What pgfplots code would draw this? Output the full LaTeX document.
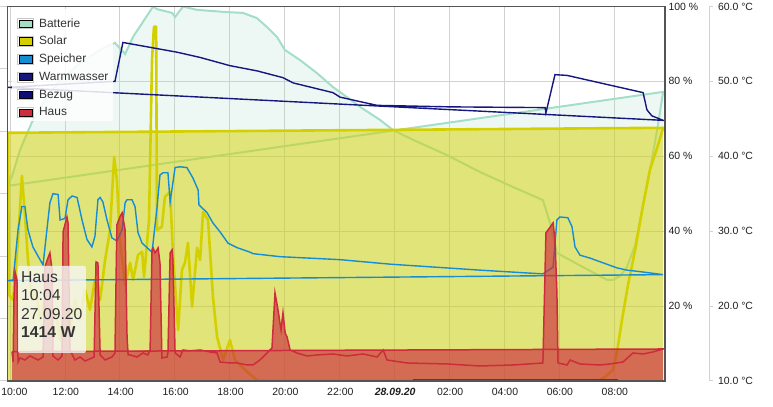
\documentclass[border=0pt]{standalone}
\usepackage{fontspec}
\setmainfont{Liberation Sans}
\usepackage{pgfplots}
\pgfplotsset{compat=1.18}
\definecolor{battC}{RGB}{165,222,199}
\definecolor{solarC}{RGB}{212,208,0}
\definecolor{speiC}{RGB}{22,140,212}
\definecolor{warmC}{RGB}{22,22,128}
\definecolor{bezugC}{RGB}{14,14,118}
\definecolor{hausC}{RGB}{204,44,60}
\definecolor{gridC}{RGB}{210,210,210}
\definecolor{borderC}{RGB}{85,85,85}
\definecolor{txtC}{RGB}{30,30,30}
\definecolor{legC}{RGB}{51,51,51}
\pgfplotsset{
  base/.style={
    at={(7.5bp,26bp)}, anchor=south west,
    scale only axis, width=657.5bp, height=374.5bp,
    xmin=-0.095, xmax=23.858,
  },
}
\begin{document}
\begin{tikzpicture}
\useasboundingbox (0,0) rectangle (773bp,407bp);
% ---------- axis 1: grid, x labels, % axis, Batterie
\begin{axis}[base, ymin=0, ymax=100,
  axis line style={draw=none},
  major tick length=0pt,
  /pgf/number format/assume math mode=true,
  tick label style={font=\fontsize{10.5}{12}\selectfont, text=txtC},
  xtick={0,2,...,22},
  xticklabels={\hspace*{7bp}10:00,12:00,14:00,16:00,18:00,20:00,22:00,\textbf{\textit{28.09.20}},02:00,04:00,06:00,08:00},
  xticklabel style={yshift=-3.5bp, xshift=0.8bp},
  ytick={20,40,60,80,100},
  yticklabel pos=right,
  yticklabel={\pgfmathprintnumber{\tick}~\%},
  xmajorgrids, ymajorgrids,
  grid style={draw=gridC, line width=1bp},
]
\addplot[draw=none, fill=battC, fill opacity=0.2, forget plot] coordinates {
(-0.08,52.1) (0.07,54.7) (0.36,61.7) (0.80,69.2) (1.27,75.0) (1.82,80.4) (2.55,84.9) (3.28,88.4) (3.82,90.3) (4.19,87.3) (4.48,91.9) (5.21,100) (5.35,99.3) (5.90,98.3) (6.01,97.2) (6.30,100) (6.81,99.1) (7.90,98.5) (8.48,98.3) (8.99,96.9) (9.36,94.5) (9.72,91.9) (10.01,88.4) (10.56,85.7) (11.18,82.2) (11.76,78.5) (12.31,75.6) (12.75,73.2) (13.48,69.7) (13.95,67.0) (23.79,77.2)
} \closedcycle;
\addplot[battC, line width=2bp, forget plot] coordinates {
(-0.08,52.1) (0.07,54.7) (0.36,61.7) (0.80,69.2) (1.27,75.0) (1.82,80.4) (2.55,84.9) (3.28,88.4) (3.82,90.3) (4.19,87.3) (4.48,91.9) (5.21,100) (5.35,99.3) (5.90,98.3) (6.01,97.2) (6.30,100) (6.81,99.1) (7.90,98.5) (8.48,98.3) (8.99,96.9) (9.36,94.5) (9.72,91.9) (10.01,88.4) (10.56,85.7) (11.18,82.2) (11.76,78.5) (12.31,75.6) (12.75,73.2) (13.48,69.7) (13.95,67.0) (14.68,64.4) (15.92,60.3) (17.12,55.8) (18.32,51.8) (19.41,48.3) (19.67,42.2) (19.92,34.2) (20.87,30.4) (21.75,27.0) (21.96,27.0) (22.22,28.0) (22.47,30.4) (22.77,36.3) (23.06,47.0) (23.31,56.3) (23.57,67.0) (23.79,77.2) (-0.08,52.1)
};
\end{axis}
% ---------- axis 2: Solar (W)
\begin{axis}[base, hide axis, ymin=0, ymax=18000]
\addplot[draw=none, fill=solarC, fill opacity=0.5, forget plot] coordinates {
(-0.08,11930) (23.79,12170)
} \closedcycle;
\addplot[solarC, line width=2.6bp, line join=round, forget plot] coordinates {
(-0.08,11930) (-0.04,4140) (0.11,3900) (0.29,6780) (0.43,9860) (0.54,7990) (0.65,5820) (0.80,3900) (0.94,4380) (1.09,2930) (1.27,3900) (1.45,2450) (1.64,3420) (1.82,1970) (2.00,3660) (2.18,2450) (2.36,3900) (2.55,2930) (2.73,4380) (2.91,3420) (3.09,4860) (3.28,3900) (3.46,5820) (3.64,7260) (3.79,10770) (3.89,9670) (4.00,6780) (4.19,4620) (4.37,5680) (4.48,4860) (4.66,6060) (4.81,6210) (4.88,5000) (5.06,7740) (5.17,15440) (5.24,17030) (5.32,17030) (5.35,7260) (5.53,7410) (5.64,8850) (5.83,9090) (5.93,6160) (6.12,2450) (6.26,5340) (6.37,5680) (6.48,6640) (6.63,3560) (6.81,6400) (6.92,5820) (7.03,8130) (7.21,7740) (7.39,4040) (7.54,2120) (7.76,1010) (8.01,1970) (8.19,1010) (8.56,530) (9.03,0) (21.42,0) (21.67,190) (21.96,530) (22.11,1400) (22.29,2930) (22.51,4620) (22.77,6300) (23.06,8470) (23.31,10150) (23.57,11210) (23.79,12170) (-0.08,11930)
};
\end{axis}
% ---------- axis 3: temperatures (degC)
\begin{axis}[base, hide axis, ymin=10, ymax=60]
\addplot[speiC, line width=1.4bp, forget plot] coordinates {
(-0.08,23.4) (0.11,23.5) (0.29,30.2) (0.43,33.3) (0.54,33.3) (0.65,30.2) (0.83,27.9) (1.09,26.2) (1.20,25.5) (1.45,33.8) (1.56,35.0) (1.75,34.9) (1.82,31.5) (2.00,31.7) (2.11,34.2) (2.26,34.7) (2.44,34.5) (2.62,31.5) (2.80,28.9) (2.98,27.9) (3.09,29.3) (3.20,34.2) (3.28,34.5) (3.38,33.9) (3.53,31.5) (3.71,29.1) (3.89,28.7) (4.08,30.2) (4.19,33.8) (4.26,34.2) (4.44,34.2) (4.55,33.3) (4.66,29.8) (4.81,28.4) (4.99,27.8) (5.17,27.2) (5.35,33.1) (5.46,37.5) (5.57,37.8) (5.75,37.8) (5.83,33.9) (6.01,38.5) (6.19,38.6) (6.44,38.5) (6.66,37.1) (6.85,35.5) (6.88,33.5) (7.17,32.5) (7.39,31.1) (7.65,29.9) (7.94,28.4) (8.27,27.8) (8.74,27.2) (8.85,27.0) (9.83,26.6) (12.02,26.2) (13.84,25.6) (17.12,24.8) (19.41,24.3) (19.78,25.2) (19.85,28.3) (19.92,31.5) (20.03,31.9) (20.32,31.8) (20.47,30.6) (20.58,27.9) (20.76,26.8) (21.13,26.4) (22.11,25.1) (22.47,24.8) (22.95,24.6) (23.79,24.2) (-0.08,23.4)
};
\addplot[warmC, line width=1.4bp, forget plot] coordinates {
(-0.08,49.2) (1.82,49.6) (3.82,50.0) (4.11,55.2) (5.17,54.5) (6.08,53.9) (6.92,53.2) (8.01,52.1) (9.00,51.4) (9.94,50.5) (10.31,49.8) (11.76,48.5) (12.02,47.9) (12.75,47.3) (13.37,46.8) (16.03,46.6) (19.49,46.5) (19.52,45.8) (19.85,50.9) (20.29,50.8) (23.06,48.5) (23.20,46.2) (23.38,45.4) (23.79,44.8) (-0.08,49.2)
};
\end{axis}
% ---------- axis 4: Bezug, Haus (W), border, legend, tooltip
\begin{axis}[base, ymin=0, ymax=18000,
  axis on top,
  axis line style={draw=borderC, line width=1.3bp},
  xtick=\empty,
  ytick={0,3000,...,18000}, yticklabel=\empty,
  ytick pos=left, tick align=outside, major tick length=7bp,
  ytick style={draw=gridC, line width=1bp},
  legend style={
    at={(0.00684,0.995)}, anchor=north west,
    fill=white, fill opacity=0.85, text opacity=1, draw=none,
    inner xsep=5bp, inner ysep=3bp, row sep=0bp,
    font=\fontsize{12}{14}\selectfont, text=legC,
    nodes={inner sep=0bp},
  },
  legend cell align=left,
  legend image code/.code={
    \path[draw=none, fill=none] (0bp,-5.8bp) rectangle (21.5bp,12bp);
    \draw[draw=black!22, line width=0.8bp, fill=white, fill opacity=1] (0bp,-5bp) rectangle (15.6bp,5bp);
    \fill[#1, fill opacity=1] (1.3bp,-3.7bp) rectangle (14.3bp,3.7bp);
  },
]
\addplot[bezugC, line width=3bp, forget plot] coordinates {(14.68,0) (22.15,0)};
\addplot[draw=none, fill=hausC, fill opacity=0.65, forget plot] coordinates {
(0.07,1414) (0.11,1420) (0.14,3900) (0.18,5240) (0.25,4860) (0.29,1420) (1.20,1420) (1.27,5483) (1.38,5916) (1.45,6157) (1.53,5339) (1.56,1425) (1.89,1425) (1.93,7167) (2.07,7888) (2.11,7600) (2.18,1426) (3.06,1430) (3.13,5724) (3.20,5676) (3.28,1431) (3.82,1434) (3.89,7504) (4.00,7888) (4.08,8081) (4.19,7263) (4.26,2116) (4.30,1436) (5.10,1491) (5.17,6301) (5.21,6397) (5.28,6157) (5.35,6301) (5.39,6397) (5.46,5676) (5.53,1443) (5.75,1444) (5.83,6157) (5.90,6301) (5.93,5820) (6.01,1446) (6.30,1491) (6.92,1491) (9.40,1462) (9.54,1587) (9.65,4233) (9.76,3415) (9.87,2453) (9.94,3271) (10.02,2309) (10.09,2116) (10.20,1491) (13.59,1491) (19.41,1515) (19.52,7119) (19.60,7263) (19.78,7600) (19.85,6782) (19.92,4233) (19.96,1518) (23.79,1539)
} \closedcycle;
\addplot[hausC, line width=1.5bp, forget plot] coordinates {
(0.07,1414) (0.11,914) (0.14,3900) (0.18,5240) (0.25,4860) (0.29,914) (0.36,1106) (0.54,1010) (0.72,1203) (1.02,1010) (1.20,1154) (1.27,5483) (1.38,5916) (1.45,6157) (1.53,5339) (1.56,1203) (1.75,1010) (1.89,1203) (1.93,7167) (2.07,7888) (2.11,7600) (2.18,1491) (2.36,1010) (2.55,1154) (2.73,962) (3.06,1154) (3.13,5724) (3.20,5676) (3.28,1251) (3.46,1010) (3.71,1154) (3.82,1347) (3.89,7504) (4.00,7888) (4.08,8081) (4.19,7263) (4.26,2116) (4.30,1251) (4.37,1251) (4.62,1154) (4.84,1347) (5.02,1251) (5.10,1491) (5.17,6301) (5.21,6397) (5.28,6157) (5.35,6301) (5.39,6397) (5.46,5676) (5.53,1106) (5.72,1154) (5.75,1347) (5.83,6157) (5.90,6301) (5.93,5820) (6.01,1347) (6.19,1154) (6.30,1491) (6.55,1443) (6.92,1491) (7.28,1395) (7.54,1347) (7.65,914) (8.01,866) (8.27,866) (8.63,770) (8.85,770) (9.10,1010) (9.40,1395) (9.54,1587) (9.65,4233) (9.76,3415) (9.87,2453) (9.94,3271) (10.02,2309) (10.09,2116) (10.20,1491) (10.45,1347) (10.82,1203) (11.18,1251) (11.76,1299) (12.27,1203) (12.86,1299) (13.37,1154) (13.59,1491) (13.73,1010) (14.46,866) (15.92,818) (17.12,722) (18.32,770) (19.41,866) (19.52,7119) (19.60,7263) (19.78,7600) (19.85,6782) (19.92,4233) (19.96,866) (20.29,770) (20.40,1010) (20.76,818) (21.49,770) (21.85,818) (22.33,914) (22.69,1347) (23.06,1299) (23.42,1395) (23.79,1539) (0.07,1414)
};
\fill[white!97!black, fill opacity=0.8, rounded corners=2bp] (rel axis cs:0.01597,0.3071) rectangle (rel axis cs:0.1193,0.07477);
\node[anchor=north west, inner sep=0pt, align=left, font=\fontsize{15.8}{18.3}\selectfont, text=legC] at (rel axis cs:0.02053,0.2919) {Haus\\10:04\\27.09.20\\\textbf{1414 W}};
\addlegendimage{fill=battC}
\addlegendentry{Batterie}
\addlegendimage{fill=solarC}
\addlegendentry{Solar}
\addlegendimage{fill=speiC}
\addlegendentry{Speicher}
\addlegendimage{fill=warmC}
\addlegendentry{Warmwasser}
\addlegendimage{fill=bezugC}
\addlegendentry{Bezug}
\addlegendimage{fill=hausC}
\addlegendentry{Haus}
\end{axis}
% ---------- axis 5: degC scale
\begin{axis}[at={(708bp,26bp)}, anchor=south west, scale only axis,
  width=1bp, height=374.5bp, xmin=0, xmax=1, ymin=10, ymax=60,
  axis x line=none, axis y line*=right,
  y axis line style={draw=gridC, line width=1bp},
  ytick={10,20,...,60}, tick align=outside, major tick length=4bp,
  ytick style={draw=gridC, line width=1bp},
  /pgf/number format/assume math mode=true,
  yticklabel={\pgfmathprintnumber[fixed,fixed zerofill,precision=1]{\tick}~°C},
  yticklabel style={font=\fontsize{10.5}{12}\selectfont, text=txtC, xshift=1.5bp},
]
\end{axis}
\end{tikzpicture}
\end{document}
